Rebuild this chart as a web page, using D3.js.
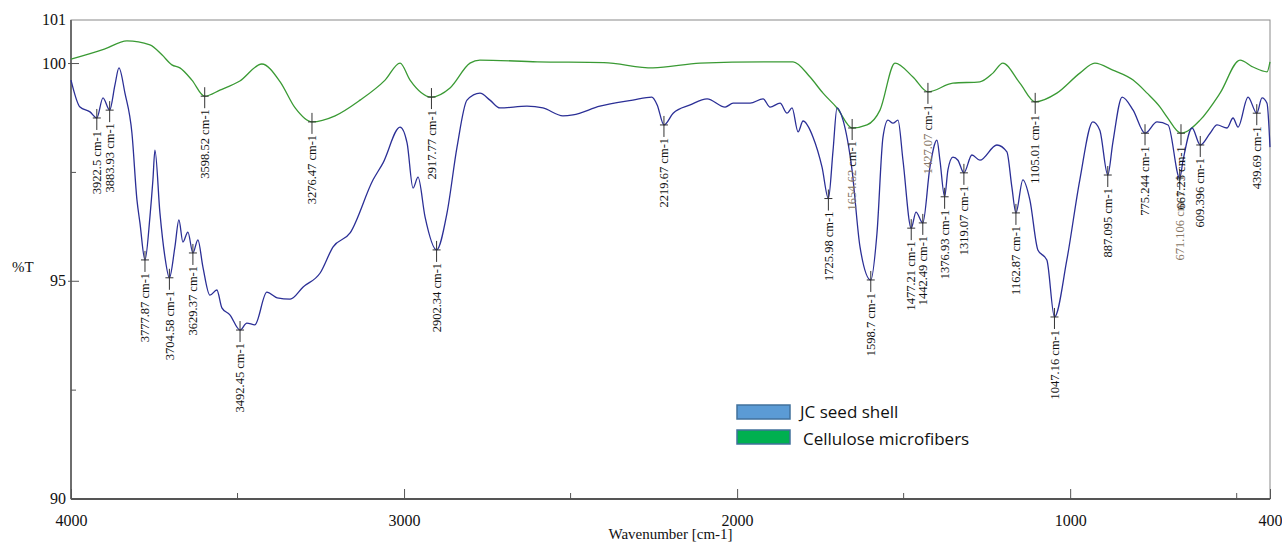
<!DOCTYPE html>
<html>
<head>
<meta charset="utf-8">
<script src="https://cdn.jsdelivr.net/npm/d3@7"></script>
<style>
  html, body { margin: 0; padding: 0; background: #fff; }
  svg { display: block; }
</style>
</head>
<body>
<svg id="chart" width="1282" height="543"></svg>
<script>
// ---- data (wavenumber cm-1, %T) ----
const jcSeedShell = [
  [4000, 99.62], [3973, 99.00], [3943, 98.89], [3922.5, 98.75], [3904, 99.21],
  [3883.93, 98.93], [3868, 99.51], [3856, 99.90], [3838, 99.32], [3817, 98.40],
  [3802, 96.87], [3793, 96.34], [3777.87, 95.49], [3763, 96.48], [3754, 97.33],
  [3748, 98.01], [3733, 96.57], [3718, 95.56], [3704.58, 95.08], [3688, 95.79],
  [3676, 96.41], [3664, 95.90], [3649, 96.13], [3634, 95.65], [3619, 95.95],
  [3604, 95.33], [3583, 94.68], [3562, 94.80], [3547, 94.39], [3523, 94.23],
  [3492.45, 93.88], [3472, 94.04], [3448, 94.00], [3412, 94.75], [3381, 94.62],
  [3342, 94.59], [3303, 94.87], [3252, 95.19], [3213, 95.79], [3162, 96.11],
  [3093, 97.33], [3063, 97.72], [3012, 98.54], [2991, 98.18], [2973, 97.14],
  [2958, 97.39], [2937, 96.48], [2902.34, 95.72], [2871, 96.57], [2841, 98.08],
  [2811, 99.16], [2772, 99.32], [2742, 99.16], [2712, 98.98], [2631, 99.02],
  [2583, 98.98], [2523, 98.80], [2493, 98.82], [2412, 99.02], [2313, 99.16],
  [2256, 99.23], [2240, 99.05], [2219.67, 98.59], [2192, 98.86], [2141, 99.05],
  [2090, 99.19], [2036, 99.00], [2012, 99.09], [1961, 99.09], [1922, 99.19],
  [1901, 99.00], [1871, 99.09], [1850, 98.86], [1835, 98.98], [1817, 98.43],
  [1802, 98.68], [1772, 98.31], [1745, 97.62], [1725.98, 96.90], [1712, 98.00],
  [1700, 98.98], [1682, 98.70], [1655, 97.56], [1631, 95.79], [1598.7, 95.03],
  [1580, 96.11], [1562, 98.31], [1547, 98.70], [1532, 98.63], [1517, 98.70],
  [1502, 97.78], [1477.21, 96.22], [1463, 96.59], [1442.49, 96.34], [1421, 97.62],
  [1400, 98.24], [1391, 97.78], [1376.93, 96.94], [1367, 97.56], [1352, 97.85],
  [1337, 97.78], [1319.07, 97.49], [1295, 97.90], [1271, 97.78], [1220, 98.13],
  [1190, 97.97], [1175, 97.16], [1162.87, 96.57], [1142, 97.33], [1121, 96.87],
  [1097, 95.72], [1070, 95.49], [1047.16, 94.18], [1010, 95.49], [971, 97.33],
  [932, 98.66], [911, 98.47], [887.095, 97.44], [872, 98.18], [844, 99.23],
  [811, 98.93], [775.244, 98.40], [739, 98.66], [706, 98.59], [671.106, 97.37],
  [661, 97.78], [634, 98.52], [609.396, 98.13], [580, 98.40], [559, 98.59],
  [529, 98.52], [511, 98.75], [496, 98.54], [466, 99.23], [439.69, 98.86],
  [424, 99.21], [409, 99.09], [400, 98.08]
];

const celluloseMicrofibers = [
  [4000, 100.10], [3900, 100.33], [3832, 100.52], [3763, 100.43], [3727, 100.20],
  [3697, 99.97], [3673, 99.90], [3637, 99.62], [3598.52, 99.25], [3553, 99.39],
  [3493, 99.60], [3427, 99.99], [3372, 99.58], [3327, 98.98], [3276.47, 98.66],
  [3207, 98.80], [3132, 99.16], [3057, 99.62], [3012, 100.01], [2982, 99.62],
  [2917.77, 99.23], [2862, 99.44], [2802, 100.01], [2772, 100.08], [2600, 100.04],
  [2400, 100.02], [2253, 99.90], [2111, 100.01], [1910, 100.04], [1832, 100.04],
  [1781, 99.69], [1742, 99.32], [1700, 98.98], [1654.62, 98.52], [1610, 98.59],
  [1571, 98.93], [1526, 100.01], [1472, 99.69], [1427.07, 99.35], [1352, 99.55],
  [1271, 99.58], [1232, 99.78], [1202, 100.01], [1151, 99.55], [1105.01, 99.12],
  [1040, 99.32], [971, 99.78], [926, 100.01], [872, 99.85], [811, 99.62],
  [769, 99.32], [730, 99.00], [709, 98.77], [667.25, 98.40], [610, 98.70],
  [550, 99.32], [490, 100.08], [451, 99.92], [409, 99.81], [400, 100.04]
];

// peak labels: [wavenumber, %T at mark, label, tint]
const peakLabels = [
  [3922.5, 98.75, "3922.5 cm-1", "k"], [3883.93, 98.93, "3883.93 cm-1", "k"],
  [3598.52, 99.25, "3598.52 cm-1", "k"], [3276.47, 98.66, "3276.47 cm-1", "k"],
  [2917.77, 99.23, "2917.77 cm-1", "k"], [3777.87, 95.49, "3777.87 cm-1", "k"],
  [3704.58, 95.08, "3704.58 cm-1", "k"], [3634, 95.65, "3629.37 cm-1", "k"],
  [3492.45, 93.88, "3492.45 cm-1", "k"], [2902.34, 95.72, "2902.34 cm-1", "k"],
  [2219.67, 98.59, "2219.67 cm-1", "k"], [1725.98, 96.90, "1725.98 cm-1", "k"],
  [1654.62, 98.52, "1654.62 cm-1", "g"], [1598.7, 95.03, "1598.7 cm-1", "k"],
  [1477.21, 96.22, "1477.21 cm-1", "k"], [1442.49, 96.34, "1442.49 cm-1", "k"],
  [1427.07, 99.35, "1427.07 cm-1", "g"], [1376.93, 96.94, "1376.93 cm-1", "k"],
  [1319.07, 97.49, "1319.07 cm-1", "k"], [1162.87, 96.57, "1162.87 cm-1", "k"],
  [1105.01, 99.12, "1105.01 cm-1", "k"], [1047.16, 94.18, "1047.16 cm-1", "k"],
  [887.095, 97.44, "887.095 cm-1", "k"], [775.244, 98.40, "775.244 cm-1", "k"],
  [671.106, 97.37, "671.106 cm-1", "g"], [667.25, 98.40, "667.25 cm-1", "k"],
  [609.396, 98.13, "609.396 cm-1", "k"], [439.69, 98.86, "439.69 cm-1", "k"]
];

const xMajorTicks = [4000, 3000, 2000, 1000, 400];
const xMinorTicks = [3500, 2500, 1500, 500];
const yMajorTicks = [90, 95, 100, 101];
const yMinorTicks = [92.5, 97.5];

const legendItems = [
  { label: "JC seed shell", fill: "#5b9bd5" },
  { label: "Cellulose microfibers", fill: "#00b050" }
];

// ---- layout ----
const svg = d3.select("#chart");
const margin = { left: 71, right: 12, top: 20, bottom: 44 };
const W = 1282, H = 543;

const x = d3.scaleLinear().domain([4000, 400]).range([margin.left, W - margin.right]);
const y = d3.scaleLinear().domain([90, 101]).range([H - margin.bottom, margin.top]);

const BLUE = "#2b2f96";
const GREEN = "#3a9a34";
const serif = "'Liberation Serif', 'Times New Roman', serif";

// frame
svg.append("rect")
  .attr("x", x(4000)).attr("y", y(101))
  .attr("width", x(400) - x(4000)).attr("height", y(90) - y(101))
  .attr("fill", "none").attr("stroke", "#8a8a8a").attr("stroke-width", 1);

// left + bottom axis lines (heavier)
svg.append("line")
  .attr("x1", x(4000)).attr("x2", x(4000)).attr("y1", y(101)).attr("y2", y(90))
  .attr("stroke", "#6e6e6e").attr("stroke-width", 2);
svg.append("line")
  .attr("x1", x(4000)).attr("x2", x(400)).attr("y1", y(90)).attr("y2", y(90))
  .attr("stroke", "#555").attr("stroke-width", 2);

// x axis
const xAxis = svg.append("g")
  .attr("transform", `translate(0,${y(90)})`)
  .call(d3.axisBottom(x).tickValues(xMajorTicks).tickFormat(d3.format("d"))
    .tickSizeInner(-10).tickSizeOuter(0).tickPadding(16));
xAxis.select(".domain").remove();
xAxis.selectAll("line").attr("stroke", "#555");
xAxis.selectAll("text")
  .attr("font-family", serif).attr("font-size", 16).attr("fill", "#111");

svg.append("g").selectAll("line")
  .data(xMinorTicks)
  .join("line")
  .attr("x1", d => x(d)).attr("x2", d => x(d))
  .attr("y1", y(90)).attr("y2", y(90) - 6)
  .attr("stroke", "#555");

// y axis labels + ticks
svg.append("g").selectAll("text")
  .data(yMajorTicks)
  .join("text")
  .attr("x", x(4000) - 5)
  .attr("y", d => y(d) + 5)
  .attr("text-anchor", "end")
  .attr("font-family", serif).attr("font-size", 16).attr("fill", "#111")
  .text(d => d);

svg.append("g").selectAll("line")
  .data(yMajorTicks.filter(d => d > 90 && d < 101))
  .join("line")
  .attr("x1", x(4000) - 3).attr("x2", x(4000) + 8)
  .attr("y1", d => y(d)).attr("y2", d => y(d))
  .attr("stroke", "#555");

svg.append("g").selectAll("line")
  .data(yMinorTicks)
  .join("line")
  .attr("x1", x(4000)).attr("x2", x(4000) + 5)
  .attr("y1", d => y(d)).attr("y2", d => y(d))
  .attr("stroke", "#555");

svg.append("text")
  .attr("x", 12).attr("y", 272)
  .attr("font-family", serif).attr("font-size", 15).attr("fill", "#111")
  .text("%T");

svg.append("text")
  .attr("x", (x(4000) + x(400)) / 2).attr("y", 539)
  .attr("text-anchor", "middle")
  .attr("font-family", serif).attr("font-size", 15).attr("fill", "#111")
  .text("Wavenumber [cm-1]");

// spectra
const line = d3.line().x(d => x(d[0])).y(d => y(d[1])).curve(d3.curveMonotoneX);

svg.append("path")
  .datum(celluloseMicrofibers)
  .attr("d", line)
  .attr("fill", "none").attr("stroke", GREEN).attr("stroke-width", 1.3);

svg.append("path")
  .datum(jcSeedShell)
  .attr("d", line)
  .attr("fill", "none").attr("stroke", BLUE).attr("stroke-width", 1.3);

// peak markers and rotated labels
const marks = svg.append("g").attr("class", "peaks");
for (const [wn, t, label, tint] of peakLabels) {
  const px = x(wn), py = y(t);
  marks.append("line")
    .attr("x1", px).attr("x2", px).attr("y1", py - 9).attr("y2", py + 12)
    .attr("stroke", "#333").attr("stroke-width", 1);
  marks.append("line")
    .attr("x1", px - 4).attr("x2", px + 4).attr("y1", py).attr("y2", py)
    .attr("stroke", "#333").attr("stroke-width", 1);

  const txt = marks.append("text")
    .attr("transform", `translate(${px},${py + 13}) rotate(-90)`)
    .attr("text-anchor", "end")
    .attr("dy", "0.33em")
    .attr("font-family", serif).attr("font-size", 12.5)
    .attr("fill", "#111");
  if (tint === "g") {
    const [num, unit] = label.split(" ");
    txt.append("tspan").attr("fill", "#857463").text(num + " ");
    txt.append("tspan").attr("fill", wn < 700 ? "#857463" : "#222").text(unit);
  } else {
    txt.text(label);
  }
}

// legend
const legend = svg.append("g").attr("transform", "translate(737,405)");
legendItems.forEach((d, i) => {
  const g = legend.append("g").attr("transform", `translate(0,${i * 25})`);
  g.append("rect")
    .attr("width", 53).attr("height", 14)
    .attr("fill", d.fill).attr("stroke", "#41719c").attr("stroke-width", 1.5);
  g.append("text")
    .attr("x", 63 + i * 3).attr("y", 13 + i * 2)
    .attr("font-family", "'Open Sans', 'Liberation Sans', sans-serif")
    .attr("font-size", 17).attr("fill", "#111")
    .text(d.label);
});
</script>
</body>
</html>
